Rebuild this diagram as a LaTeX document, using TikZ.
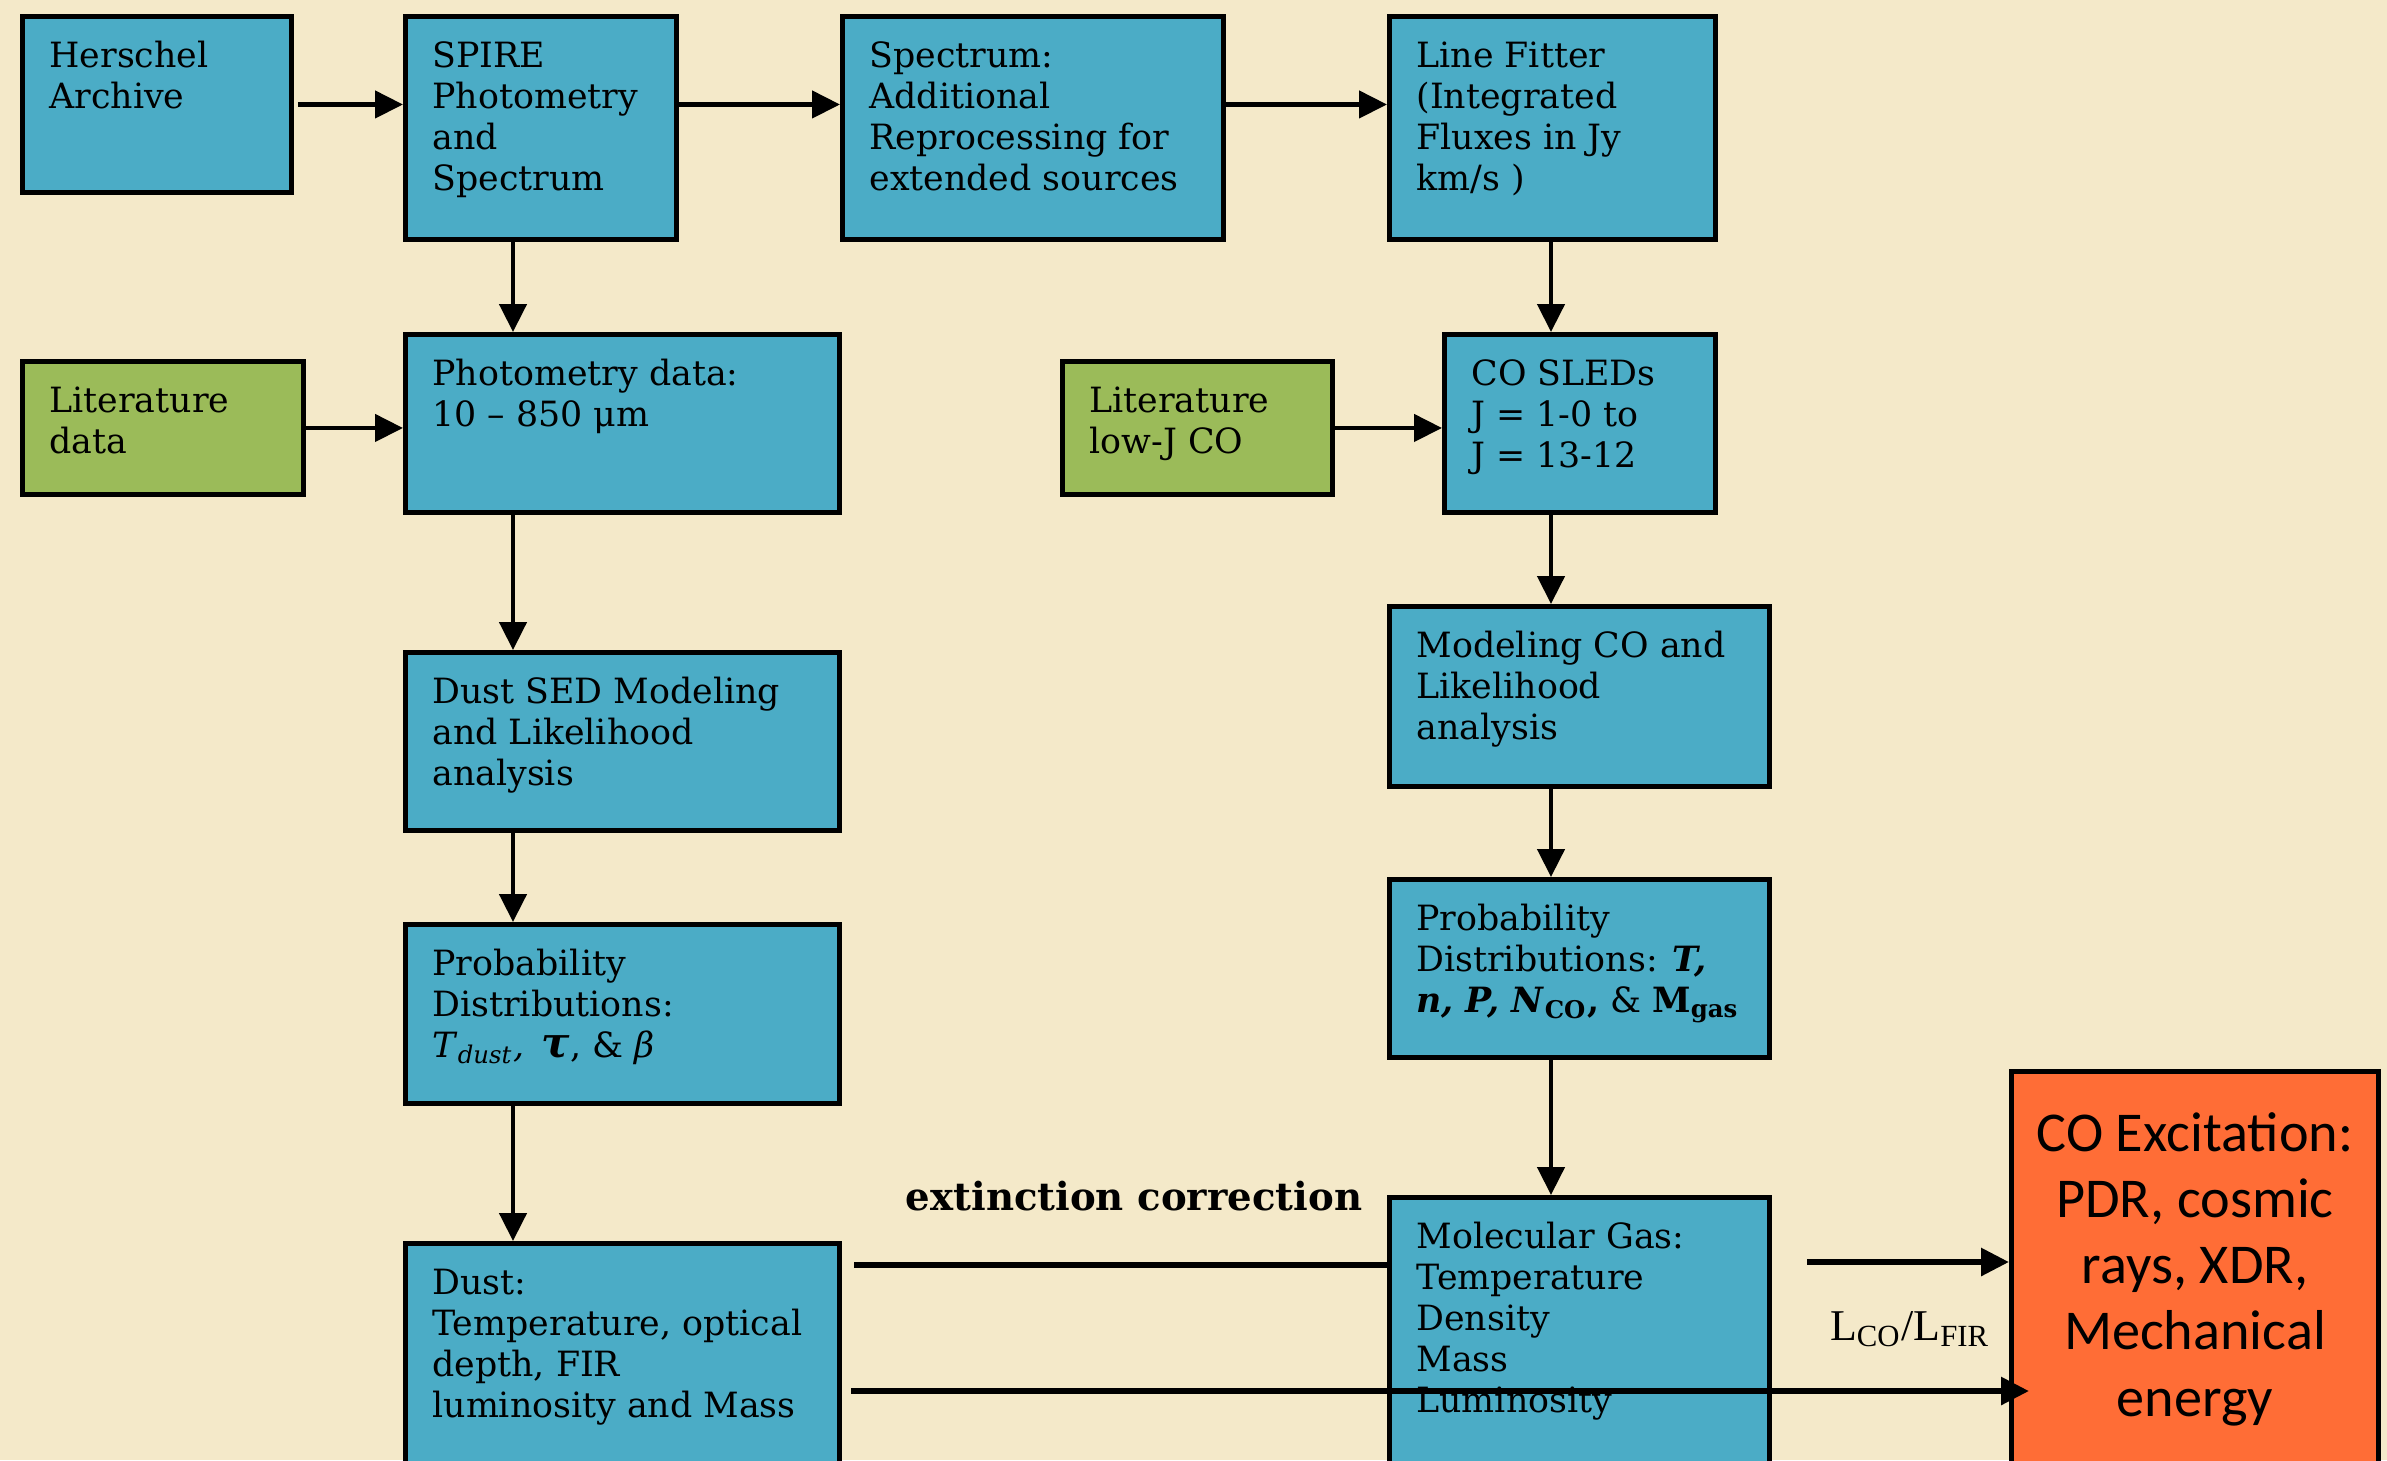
\documentclass[tikz,border=0pt]{standalone}
\usepackage{fontspec}
\setmainfont{DejaVu Serif}
\newfontfamily\excitefont{Carlito}
\newfontfamily\ratiofont{Liberation Serif}
\usetikzlibrary{arrows.meta}
\definecolor{pageBeige}{HTML}{F4E9C9}
\definecolor{stepBlue}{HTML}{4BACC6}
\definecolor{inputGreen}{HTML}{9BBB59}
\definecolor{resultOrange}{HTML}{FF6D36}
% text block of a box: width, height (cm), lines
\newcommand{\boxtext}[3]{\parbox[t][\dimexpr#2cm-0.44cm\relax][t]{\dimexpr#1cm-0.54cm\relax}{\raggedright\strut#3}}

\begin{document}
\begin{tikzpicture}[>={Triangle[length=0.28cm,width=0.27cm]},
    stepbox/.style={draw=black, line width=1.4pt, fill=stepBlue, anchor=north west,
      inner xsep=0.27cm, inner ysep=0.22cm, font=\fontsize{9.9}{11.7}\selectfont},
    inputbox/.style={stepbox, fill=inputGreen},
    flow/.style={->, line width=1.3pt},
    longline/.style={line width=1.7pt}]
        \fill[pageBeige] (0,0) rectangle (23.87,-14.60);
        \clip (0,0) rectangle (23.87,-14.60);
        % top row
        \node[stepbox] (herschel) at (0.20,-0.14) {\boxtext{2.69}{1.76}{Herschel\\Archive}};
        \node[stepbox] (spire) at (4.03,-0.14) {\boxtext{2.71}{2.23}{SPIRE\\Photometry\\and\\Spectrum}};
        \node[stepbox] (spectrum) at (8.40,-0.14) {\boxtext{3.81}{2.23}{Spectrum:\\Additional\\Reprocessing for\\extended sources}};
        \node[stepbox] (fitter) at (13.87,-0.14) {\boxtext{3.26}{2.23}{Line Fitter\\(Integrated\\Fluxes in Jy\\km/s )}};
        % dust branch
        \node[inputbox] (litdata) at (0.20,-3.59) {\boxtext{2.81}{1.33}{Literature\\data}};
        \node[stepbox] (photo) at (4.03,-3.32) {\boxtext{4.34}{1.78}{Photometry data:\\10 – 850 μm}};
        \node[stepbox] (dustsed) at (4.03,-6.50) {\boxtext{4.34}{1.78}{Dust SED Modeling\\and Likelihood\\analysis}};
        \node[stepbox] (probdust) at (4.03,-9.22) {\boxtext{4.34}{1.79}{Probability\\Distributions:\\\textit{T}\textsubscript{\textit{dust}}\textit{,}\enspace{\large\textbf{\textit{τ}}}, \& \textit{β}}};
        \node[stepbox] (dust) at (4.03,-12.41) {\boxtext{4.34}{2.60}{Dust:\\Temperature, optical\\depth, FIR\\luminosity and Mass}};
        % gas branch
        \node[inputbox] (litco) at (10.60,-3.59) {\boxtext{2.70}{1.33}{Literature\\low-J CO}};
        \node[stepbox] (sled) at (14.42,-3.32) {\boxtext{2.71}{1.78}{CO SLEDs\\J = 1-0 to\\J = 13-12}};
        \node[stepbox] (model) at (13.87,-6.04) {\boxtext{3.80}{1.80}{Modeling CO and\\Likelihood\\analysis}};
        \node[stepbox] (probgas) at (13.87,-8.77) {\boxtext{3.80}{1.78}{Probability\\Distributions: \textbf{\textit{T,}}\\\textbf{\textit{n, P, N}}\textsubscript{\textbf{CO}}\textbf{,} \& \textbf{M}\textsubscript{\textbf{gas}}}};
        \node[stepbox] (gas) at (13.87,-11.95) {\boxtext{3.80}{3.00}{Molecular Gas:\\Temperature\\Density\\Mass\\Luminosity}};
        \node[stepbox, fill=resultOrange, inner xsep=0.13cm, inner ysep=0.34cm,
          font=\excitefont\fontsize{16}{18.8}\selectfont] (excite) at (20.09,-10.69)
          {\parbox[t][3.8cm][t]{3.41cm}{\centering\strut CO Excitation:\\PDR, cosmic\\rays, XDR,\\Mechanical\\energy}};
        % connectors
        \coordinate (lcol) at (5.13,0);
        \coordinate (rcol) at (15.51,0);
        \foreach \a/\b in {spire/photo, photo/dustsed, dustsed/probdust, probdust/dust}
          \draw[flow] (\a.south -| lcol) -- (\b.north -| lcol);
        \foreach \a/\b in {fitter/sled, sled/model, model/probgas, probgas/gas}
          \draw[flow] (\a.south -| rcol) -- (\b.north -| rcol);
        \draw[flow] ([xshift=0.04cm]herschel.east) -- (herschel.east -| spire.west);
        \draw[flow] (spire.east |- herschel.east) -- (spectrum.west |- herschel.east);
        \draw[flow] (spectrum.east |- herschel.east) -- (fitter.west |- herschel.east);
        \draw[flow] (litdata.east) -- (litdata.east -| photo.west);
        \draw[flow] (litco.east) -- (litco.east -| sled.west);
        % bottom links
        \coordinate (extstart) at (8.54,-12.65);
        \draw[longline] (extstart) -- (extstart -| gas.west);
        \node[font=\bfseries\fontsize{11}{13}\selectfont] (extlabel) at (11.34,-11.96) {extinction correction};
        \coordinate (gasout) at (18.07,-12.62);
        \draw[longline, ->] (gasout) -- (gasout -| excite.west);
        \coordinate (dustout) at (8.51,-13.91);
        \draw[longline, ->, shorten >=-0.2cm] (dustout) -- (dustout -| excite.west);
        \node[font=\ratiofont\fontsize{12.5}{14}\selectfont] (ratio) at (19.10,-13.29) {L\textsubscript{CO}/L\textsubscript{FIR}};
\end{tikzpicture}
\end{document}
